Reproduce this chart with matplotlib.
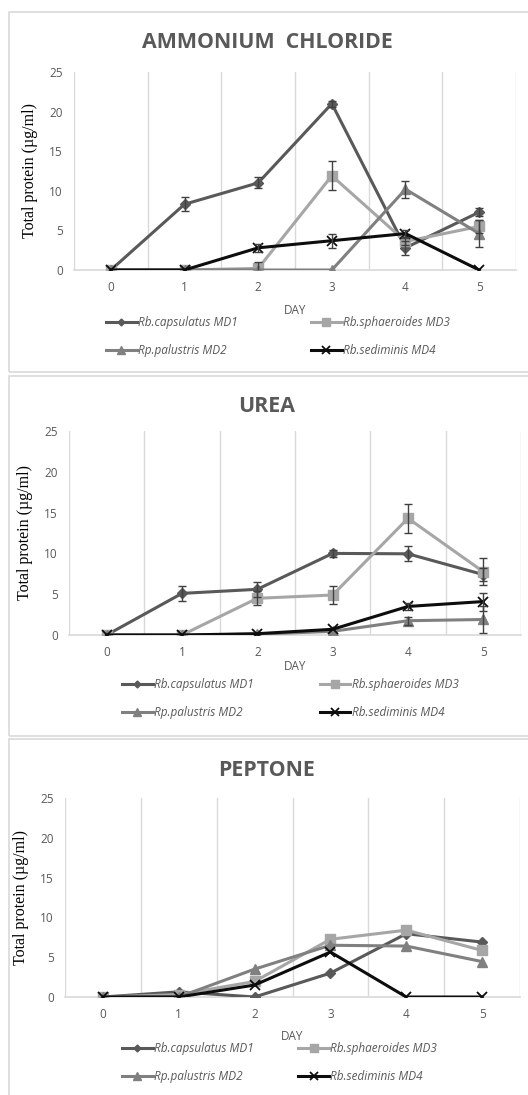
import numpy as np
import matplotlib
matplotlib.use("Agg")
import matplotlib.pyplot as plt
from matplotlib.patches import Rectangle
from matplotlib.lines import Line2D

# ---- data ----
days = [0, 1, 2, 3, 4, 5]
names = ["Rb.capsulatus MD1", "Rp.palustris MD2", "Rb.sphaeroides MD3", "Rb.sediminis MD4"]

nh4_md1 = [0, 8.3, 11.0, 21.0, 2.8, 7.3]
nh4_md1_err = [0, 0.9, 0.7, 0.4, 0.85, 0.5]
nh4_md3 = [0, 0, 0.2, 11.9, 3.6, 5.5]
nh4_md3_err = [0, 0, 0.8, 1.85, 0.4, 0.8]
nh4_md2 = [0, 0, 0, 0, 10.2, 4.6]
nh4_md2_err = [0, 0, 0, 0, 1.1, 1.7]
nh4_md4 = [0, 0, 2.8, 3.7, 4.6, 0]
nh4_md4_err = [0, 0, 0.5, 0.9, 0.4, 0]

urea_md1 = [0, 5.1, 5.6, 10.0, 9.95, 7.4]
urea_md1_err = [0, 0.9, 0.9, 0.4, 0.9, 0.8]
urea_md3 = [0, 0, 4.5, 4.9, 14.3, 7.75]
urea_md3_err = [0, 0, 0.85, 1.05, 1.8, 1.65]
urea_md2 = [0, 0, 0.1, 0.45, 1.75, 1.9]
urea_md2_err = [0, 0, 0, 0, 0.5, 1.6]
urea_md4 = [0, 0, 0.16, 0.7, 3.5, 4.1]
urea_md4_err = [0, 0, 0, 0, 0.4, 1.1]

pep_md1 = [0, 0.65, 0, 3.0, 7.95, 6.9]
pep_md3 = [0, 0.3, 1.95, 7.25, 8.4, 5.85]
pep_md2 = [0, 0, 3.5, 6.5, 6.4, 4.45]
pep_md4 = [0, 0, 1.5, 5.65, 0, 0]

W, H = 528, 1095
fig = plt.figure(figsize=(W / 100, H / 100), dpi=100)

c1 = "#595959"   # MD1
c2 = "#808080"   # MD2
c3 = "#a6a6a6"   # MD3
c4 = "#0d0d0d"   # MD4
txt = "#595959"
grid = "#d9d9d9"

styles = {
    "md1": dict(color=c1, marker="D", ms=5),
    "md2": dict(color=c2, marker="^", ms=7.5),
    "md3": dict(color=c3, marker="s", ms=7.5),
    "md4": dict(color=c4, marker="x", ms=7, mew=1.3),
}


def px_axes(x0, y0, x1, y1):
    return fig.add_axes([x0 / W, 1 - y1 / H, (x1 - x0) / W, (y1 - y0) / H])


def panel(box, area, title, title_y, series, day_y, leg_xy, colsp):
    # light frame round each chart
    fig.patches.append(Rectangle((box[0] / W, 1 - box[3] / H), (box[2] - box[0]) / W,
                                 (box[3] - box[1]) / H, transform=fig.transFigure,
                                 fill=False, ec=grid, lw=1.2))
    ax = px_axes(*area)
    for key, y, err in series:
        st = styles[key]
        ax.plot(days, y, color=st["color"], lw=2.2, marker=st["marker"], ms=st["ms"],
                mew=st.get("mew", 1), zorder=3)
        if err is not None:
            e = np.array(err, dtype=float)
            keep = e > 0
            ax.errorbar(np.array(days)[keep], np.array(y)[keep], yerr=e[keep], fmt="none",
                        ecolor="#404040", elinewidth=1, capsize=3, capthick=1, zorder=4)
    ax.set_xlim(-0.5, 5.5)
    ax.set_ylim(0, 25)
    ax.set_xticks(days)
    ax.set_yticks([0, 5, 10, 15, 20, 25])
    for g in np.arange(-0.5, 6, 1):
        ax.axvline(g, color=grid, lw=1, zorder=0)
    for s in ["top", "right", "left"]:
        ax.spines[s].set_visible(False)
    ax.spines["bottom"].set_color(grid)
    ax.spines["bottom"].set_linewidth(1.2)
    ax.tick_params(length=0, labelsize=8.5, labelcolor=txt, pad=8)
    for lab in ax.get_xticklabels() + ax.get_yticklabels():
        lab.set_fontfamily("Open Sans")
    ax.set_ylabel("Total protein (\u00b5g/ml)", fontfamily="Liberation Serif", fontsize=11.5,
                  color="black", labelpad=8)
    fig.text(267 / W, 1 - title_y / H, title, ha="center",
             va="center", fontsize=15.4, fontweight="bold", color=txt, fontfamily="Open Sans")
    fig.text((area[0] + area[2]) / 2 / W, 1 - day_y / H, "DAY", ha="center", va="center",
             fontsize=8.5, color=txt, fontfamily="Open Sans")
    handles = []
    for key in ["md1", "md2", "md3", "md4"]:
        st = styles[key]
        handles.append(Line2D([], [], color=st["color"], lw=2.2, marker=st["marker"],
                              ms=st["ms"] - 1.5, mew=st.get("mew", 1)))
    leg = fig.legend(handles, names, ncol=2, loc="upper left",
                     bbox_to_anchor=(leg_xy[0] / W, 1 - leg_xy[1] / H),
                     frameon=False, borderpad=0, borderaxespad=0, handlelength=2.6,
                     handletextpad=0.1, columnspacing=colsp, labelspacing=1.3,
                     prop=dict(family="Open Sans", style="italic", size=8.5))
    for t in leg.get_texts():
        t.set_color(txt)
    return ax


panel((9, 12, 560, 372), (74, 72, 516, 270), "AMMONIUM  CHLORIDE", 43,
      [("md1", nh4_md1, nh4_md1_err), ("md3", nh4_md3, nh4_md3_err),
       ("md2", nh4_md2, nh4_md2_err), ("md4", nh4_md4, nh4_md4_err)],
      310, (106, 316), 6.2)

panel((9, 376, 560, 736), (69, 431, 521, 635), "UREA", 407,
      [("md1", urea_md1, urea_md1_err), ("md3", urea_md3, urea_md3_err),
       ("md2", urea_md2, urea_md2_err), ("md4", urea_md4, urea_md4_err)],
      667, (122, 678), 5.6)

panel((9, 739, 560, 1120), (65, 798, 520, 997), "PEPTONE", 770,
      [("md1", pep_md1, None), ("md3", pep_md3, None),
       ("md2", pep_md2, None), ("md4", pep_md4, None)],
      1037, (122, 1042), 3.8)

fig.savefig("out.png", dpi=100)
